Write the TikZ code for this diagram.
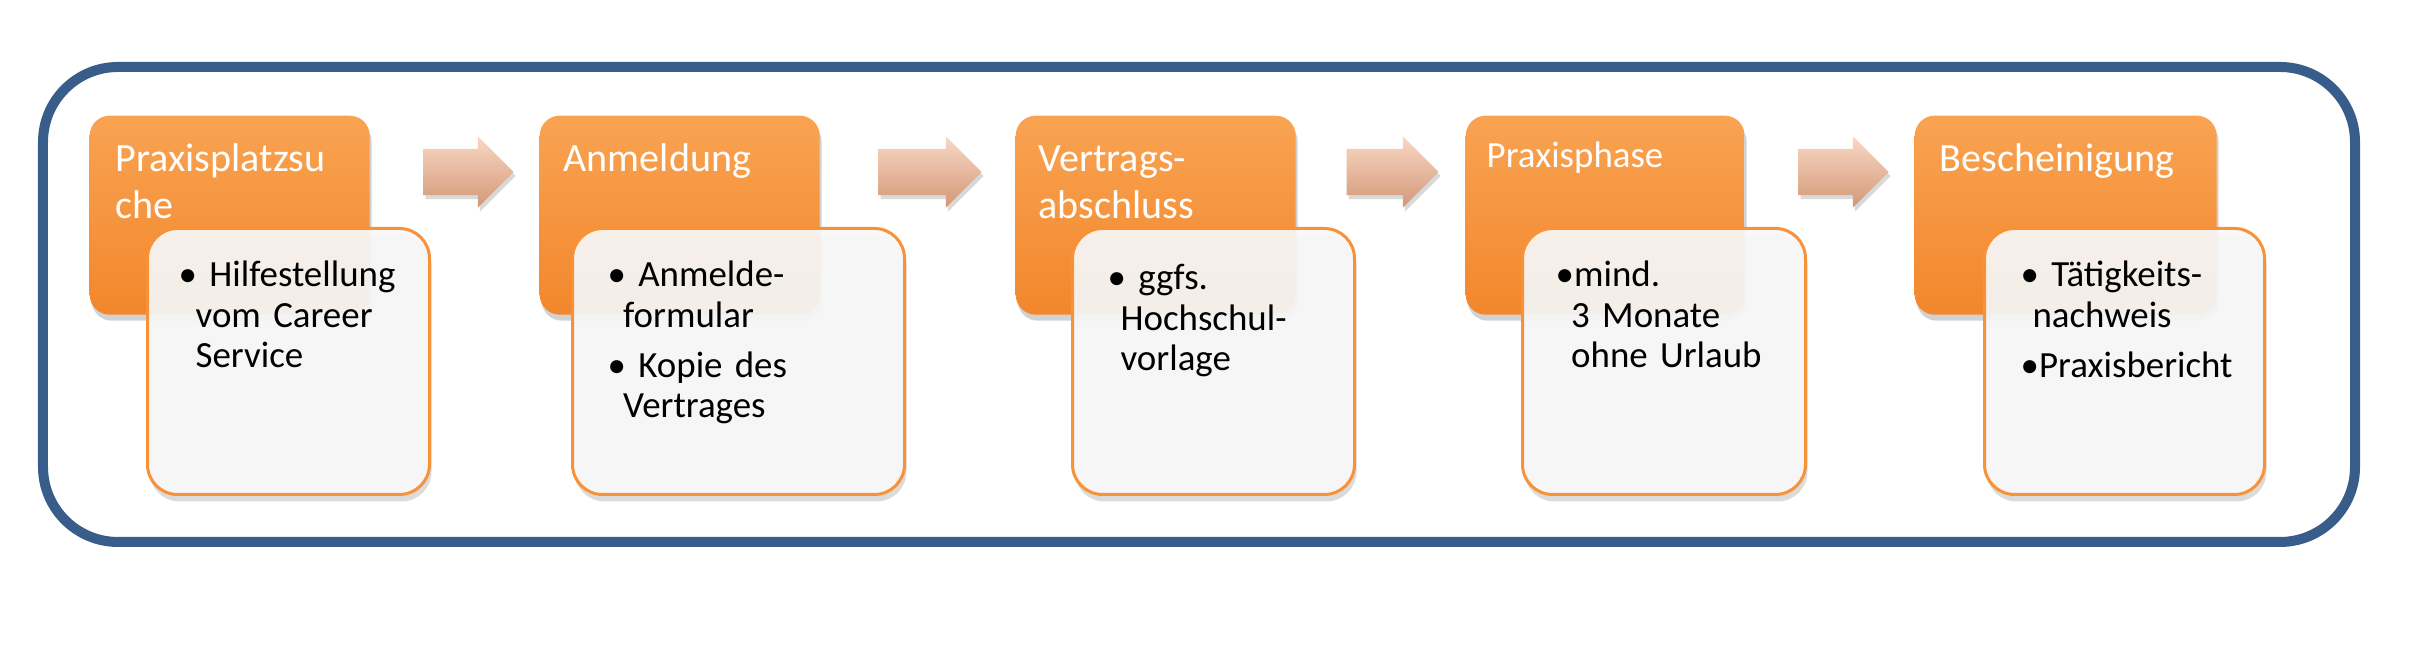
\documentclass[tikz,border=0pt]{standalone}
\usepackage{fontspec}
\setmainfont{Carlito}
\usetikzlibrary{shapes.arrows,shadows}

\definecolor{rahmenblau}{HTML}{385D8A}
\definecolor{phasenorange}{HTML}{F79239}
\definecolor{orangehell}{HTML}{F9A352}
\definecolor{orangedunkel}{HTML}{F2872C}
\definecolor{infograu}{HTML}{F8F8F8}
\definecolor{pfeilhell}{HTML}{F9D8C5}
\definecolor{pfeilmitte}{HTML}{F3C3A7}
\definecolor{pfeildunkel}{HTML}{D39877}

\tikzset{
  phase/.style={rectangle, rounded corners=0.2cm, top color=orangehell, middle color=phasenorange,
    bottom color=orangedunkel, minimum height=1.99cm, inner sep=0pt, anchor=north west,
    drop shadow={shadow xshift=0.02cm, shadow yshift=-0.06cm, opacity=0.25, fill=black!70}},
  info/.style={rectangle, rounded corners=0.3cm, draw=phasenorange, line width=0.03cm,
    fill=infograu, fill opacity=0.92, minimum height=2.66cm, inner sep=0pt, anchor=north west,
    drop shadow={shadow xshift=0.02cm, shadow yshift=-0.07cm, opacity=0.2, fill=black!70}},
  titel/.style={anchor=base west, inner sep=0pt, text=white, text width=2.75cm, align=left,
    font=\fontsize{11.4}{13.1}\selectfont},
  punkte/.style={anchor=base west, inner sep=0pt, text width=2.9cm, align=left,
    font=\fontsize{10.5}{11.4}\selectfont},
  pfeil/.style={single arrow, single arrow head extend=0.125cm, minimum width=0.7cm,
    inner xsep=0pt, inner ysep=0.225cm,
    top color=pfeilhell, middle color=pfeilmitte, bottom color=pfeildunkel,
    drop shadow={shadow xshift=0.02cm, shadow yshift=-0.04cm, opacity=0.25, fill=black!60}}
}

\begin{document}
\begin{tikzpicture}
  \useasboundingbox (0,0) rectangle (24.30,6.45);

  % Gesamtrahmen
  \draw[rahmenblau, line width=0.1cm, rounded corners=0.75cm] (0.43,1.03) rectangle (23.55,5.78);

  % Phasen (orange)
  \node[phase, minimum width=2.80cm] (p1) at (0.89,5.30) {};
  \node[phase, minimum width=2.80cm] (p2) at (5.39,5.30) {};
  \node[phase, minimum width=2.80cm] (p3) at (10.15,5.30) {};
  \node[phase, minimum width=2.79cm] (p4) at (14.65,5.30) {};
  \node[phase, minimum width=3.02cm] (p5) at (19.14,5.30) {};

  % Infokarten (hell)
  \node[info, minimum width=2.82cm] (i1) at (1.46,4.18) {};
  \node[info, minimum width=3.32cm] (i2) at (5.71,4.18) {};
  \node[info, minimum width=2.82cm] (i3) at (10.71,4.18) {};
  \node[info, minimum width=2.83cm] (i4) at (15.21,4.18) {};
  \node[info, minimum width=2.80cm] (i5) at (19.83,4.18) {};

  % Pfeile
  \node[pfeil, minimum height=0.90cm] (a1) at (4.57,4.73) {};
  \node[pfeil, minimum height=1.03cm] (a2) at (9.185,4.73) {};
  \node[pfeil, minimum height=0.92cm] (a3) at (13.81,4.73) {};
  \node[pfeil, minimum height=0.90cm] (a4) at (18.32,4.73) {};

  % Titel
  \node[titel] (t1) at (1.15,4.73) {Praxisplatzsu\\che};
  \node[titel] (t2) at (5.63,4.73) {Anmeldung};
  \node[titel] (t3) at (10.38,4.73) {Vertrags-\\abschluss};
  \node[titel, font=\fontsize{10.5}{12}\selectfont] (t4) at (14.86,4.77) {Praxisphase};
  \node[titel] (t5) at (19.39,4.73) {Bescheinigung};

  % Stichpunkte
  \node[punkte] (b1) at (1.78,3.58) {\textbullet\ Hilfestellung\\\hspace*{0.46em}vom Career\\\hspace*{0.46em}Service};
  \node[punkte] (b2) at (6.07,3.58) {\textbullet\ Anmelde-\\\hspace*{0.42em}formular\\[0.1cm]\textbullet\ Kopie des\\\hspace*{0.42em}Vertrages};
  \node[punkte] (b3) at (11.07,3.55) {\textbullet\ ggfs.\\\hspace*{0.35em}Hochschul-\\\hspace*{0.35em}vorlage};
  \node[punkte] (b4) at (15.55,3.58) {\textbullet mind.\\\hspace*{0.42em}3 Monate\\\hspace*{0.42em}ohne Urlaub};
  \node[punkte] (b5) at (20.20,3.58) {\textbullet\ Tätigkeits-\\\hspace*{0.32em}nachweis\\[0.1cm]\textbullet Praxisbericht};
\end{tikzpicture}
\end{document}
